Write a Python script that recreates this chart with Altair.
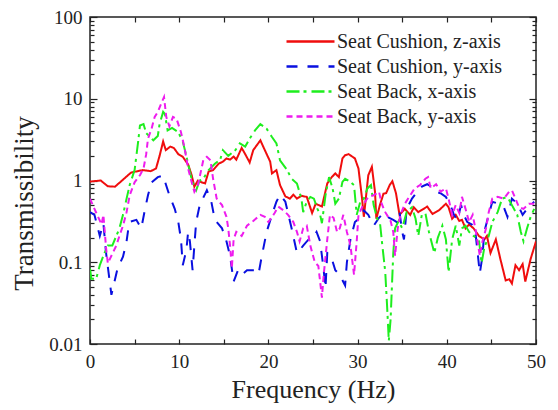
import altair as alt
import pandas as pd

series_names = ["Seat Cushion, z-axis", "Seat Cushion, y-axis", "Seat Back, x-axis", "Seat Back, y-axis"]
series_colors = ["#f00d0d", "#0a10e0", "#1eee1e", "#ee1cee"]
series_dashes = [[1, 0], [11, 10], [13, 4, 3, 5], [6, 4]]

cz_f = [0, 1.2, 2.0, 2.8, 3.5, 4.6, 5.9, 6.8, 7.4, 7.8, 8.2, 8.5, 9.0, 9.4, 9.9, 10.4, 11.0, 11.4, 11.7, 12.1,
        12.5, 12.9, 13.3, 13.8, 14.4, 14.9, 15.3, 15.7, 16.1, 16.4, 17.0, 17.4, 17.9, 18.3, 19.1, 19.6, 20.2, 20.4,
        20.9, 21.3, 21.9, 22.4, 22.8, 23.2, 23.7, 24.3, 24.9, 25.3, 26.0, 26.6, 27.1, 27.5, 27.9, 28.3, 28.6, 29.0,
        29.7, 30.1, 30.5, 30.7, 31.2, 31.6, 31.95, 32.1, 32.5, 32.9, 33.2, 33.6, 33.9, 34.3, 34.7, 35.3, 35.9, 36.3,
        36.8, 37.4, 37.8, 38.4, 39.1, 39.9, 40.2, 40.6, 41.0, 41.4, 41.7, 42.1, 42.5, 43.0, 43.6, 44.2, 44.5, 44.9,
        45.5, 46.0, 46.6, 47.0, 47.3, 47.7, 48.1, 48.5, 48.8, 49.4, 50.0]
cz_v = [0.97, 1.0, 0.85, 0.84, 0.98, 1.25, 1.34, 1.3, 1.4, 2.0, 3.0, 2.35, 2.6, 2.5, 2.1, 1.95, 1.57, 1.16, 0.84, 1.0,
        0.95, 0.92, 1.29, 1.34, 1.6, 1.7, 1.86, 1.8, 1.96, 1.8, 2.5, 2.1, 1.66, 2.35, 3.1, 2.35, 1.7, 1.22,
        1.34, 0.88, 0.64, 0.6, 0.67, 0.6, 0.65, 0.63, 0.4, 0.52, 0.48, 0.92, 1.1, 1.22, 1.1, 1.86, 2.04, 2.1,
        1.86, 1.4, 0.6, 0.36, 1.16, 1.47, 0.73, 0.34, 0.5, 0.69, 0.7, 0.88, 0.98, 0.7, 0.38, 0.45, 0.38, 0.47,
        0.41, 0.45, 0.48, 0.39, 0.43, 0.52, 0.47, 0.34, 0.38, 0.32, 0.33, 0.26, 0.29, 0.26, 0.21, 0.19, 0.21, 0.13,
        0.19, 0.11, 0.06, 0.062, 0.055, 0.092, 0.08, 0.095, 0.058, 0.11, 0.18]

cy_f = [0, 0.5, 1.1, 1.5, 1.8, 2.4, 3.1, 3.7, 4.1, 4.4, 5.2, 5.75, 6.1, 6.5, 6.9, 7.6, 8.2, 8.5, 8.9, 9.5, 9.9,
        10.2, 10.4, 10.8, 11.0, 11.2, 11.5, 11.7, 11.9, 12.3, 13.1, 13.6, 14.0, 14.8, 15.3, 15.7, 16.1, 16.6, 17.0,
        17.6, 18.5, 18.9, 19.2, 19.8, 20.4, 20.9, 21.3, 21.9, 22.2, 22.6, 23.2, 23.5, 23.9, 24.5, 25.0, 25.4, 25.8,
        26.2, 26.4, 26.6, 27.0, 27.5, 28.0, 28.6, 28.8, 29.2, 29.7, 30.3, 30.7, 31.2, 31.8, 32.4, 32.9, 33.5, 34.0,
        34.4, 34.7, 35.0, 35.2, 35.5, 36.1, 36.7, 37.2, 37.8, 38.2, 38.7, 39.3, 39.9, 40.4, 40.8, 41.2, 41.6, 41.9,
        42.3, 42.8, 43.2, 43.4, 43.7, 44.0, 44.2, 44.7, 45.1, 45.8, 46.4, 46.8, 47.3, 47.9, 48.5, 49.0, 49.8]
cy_v = [0.41, 0.38, 0.21, 0.3, 0.13, 0.04, 0.085, 0.117, 0.18, 0.31, 0.33, 0.26, 0.41, 0.66, 0.95, 1.1, 1.15, 0.9,
        0.66, 0.45, 0.31, 0.19, 0.092, 0.14, 0.235, 0.18, 0.08, 0.16, 0.31, 0.5, 0.76, 0.55, 0.33, 0.26, 0.18, 0.12,
        0.058, 0.08, 0.07, 0.08, 0.08, 0.072, 0.11, 0.235, 0.38, 0.55, 0.67, 0.55, 0.4, 0.26, 0.13, 0.14, 0.16, 0.19,
        0.2, 0.235, 0.18, 0.08, 0.048, 0.13, 0.12, 0.08, 0.07, 0.052, 0.1, 0.19, 0.31, 0.35, 0.43, 0.38, 0.28, 0.35,
        0.4, 0.35, 0.33, 0.31, 0.41, 0.235, 0.19, 0.45, 0.6, 0.73, 0.84, 0.9, 0.85, 0.73, 0.7, 0.63, 0.5, 0.38, 0.33,
        0.5, 0.38, 0.31, 0.29, 0.235, 0.15, 0.073, 0.12, 0.235, 0.38, 0.55, 0.52, 0.47, 0.36, 0.6, 0.52, 0.38, 0.45,
        0.55]

bx_f = [0, 0.15, 0.7, 1.1, 1.5, 2.0, 2.5, 3.3, 3.7, 4.1, 4.45, 5.0, 5.4, 5.6, 6.0, 6.3, 7.1, 7.6, 7.8, 8.2, 8.4,
        8.7, 9.2, 9.9, 10.4, 10.8, 11.2, 11.5, 11.9, 12.3, 12.7, 13.3, 14.0, 14.6, 14.9, 15.5, 16.3, 16.8, 17.4,
        17.9, 18.5, 19.1, 19.8, 20.4, 20.9, 21.3, 22.1, 22.6, 23.2, 23.7, 23.9, 24.3, 24.7, 25.1, 25.5, 25.8, 26.0,
        26.4, 26.8, 27.2, 27.5, 27.9, 28.3, 28.6, 29.2, 29.6, 29.9, 30.3, 30.7, 31.1, 31.5, 31.8, 32.2, 32.5, 32.7,
        33.1, 33.3, 33.5, 33.7, 33.9, 34.0, 34.2, 34.6, 35.0, 35.5, 36.1, 36.5, 36.8, 37.2, 37.6, 38.0, 38.6, 39.0,
        39.5, 39.9, 40.2, 40.6, 41.0, 41.4, 41.7, 42.1, 42.5, 43.0, 43.6, 43.9, 44.2, 44.7, 45.1, 45.7, 46.2, 46.8,
        47.3, 47.9, 48.3, 48.6, 49.0, 49.4, 49.8]
bx_v = [0.084, 0.063, 0.063, 0.092, 0.12, 0.16, 0.16, 0.26, 0.38, 0.6, 0.88, 1.34, 3.0, 4.7, 4.9, 3.8, 3.1, 3.5,
        4.9, 6.9, 6.5, 4.1, 4.4, 3.9, 3.0, 2.0, 1.27, 0.95, 0.76, 1.0, 1.05, 1.34, 1.6, 1.8, 2.35, 2.0, 2.35, 2.85,
        2.6, 3.25, 4.1, 4.9, 4.3, 3.4, 2.85, 1.77, 1.34, 1.05, 0.92, 0.6, 0.41, 0.55, 0.63, 0.6, 0.45, 0.38, 0.3,
        0.66, 1.1, 0.8, 0.52, 0.6, 0.96, 1.05, 0.96, 0.88, 0.38, 0.55, 0.6, 0.8, 0.88, 0.5, 0.34, 0.31, 0.19,
        0.076, 0.03, 0.011, 0.02, 0.07, 0.13, 0.26, 0.32, 0.26, 0.41, 0.47, 0.34, 0.21, 0.38, 0.4, 0.235, 0.13, 0.2,
        0.28, 0.19, 0.076, 0.19, 0.28, 0.16, 0.26, 0.28, 0.235, 0.21, 0.19, 0.097, 0.15, 0.21, 0.31, 0.41, 0.6, 0.63,
        0.5, 0.38, 0.235, 0.18, 0.26, 0.36, 0.45]

by_f = [0, 0.5, 0.9, 1.3, 1.5, 1.8, 2.0, 2.4, 2.95, 3.3, 3.7, 4.1, 4.45, 5.0, 5.6, 6.0, 6.3, 6.5, 6.9, 7.25, 7.6,
        7.9, 8.3, 8.55, 8.9, 9.3, 9.7, 10.2, 10.6, 11.0, 11.4, 11.7, 12.1, 12.7, 13.1, 13.5, 13.8, 14.2, 14.8, 15.3,
        15.5, 15.7, 15.9, 16.1, 16.4, 17.0, 17.6, 18.3, 19.1, 19.6, 20.0, 20.7, 21.1, 21.7, 22.2, 22.8, 23.2, 23.5,
        23.9, 24.3, 24.7, 25.2, 25.6, 26.0, 26.2, 26.6, 26.9, 27.3, 27.7, 28.0, 28.4, 28.8, 29.2, 29.6, 29.9, 30.1,
        30.7, 31.2, 31.8, 32.4, 32.7, 33.1, 33.7, 34.0, 34.2, 34.5, 34.8, 35.3, 35.9, 36.4, 37.0, 37.6, 37.9, 38.2,
        38.8, 39.3, 39.9, 40.2, 40.6, 41.0, 41.4, 41.7, 42.1, 42.5, 42.9, 43.2, 43.7, 44.0, 44.4, 44.7, 45.1, 45.7,
        46.4, 47.0, 47.3, 47.7, 48.1, 48.6, 49.2, 49.8]
by_v = [0.6, 0.45, 0.36, 0.29, 0.38, 0.15, 0.097, 0.12, 0.16, 0.21, 0.28, 0.41, 0.66, 0.95, 1.16, 1.4, 2.1, 3.25,
        4.3, 6.0, 6.9, 8.3, 10.5, 6.0, 4.6, 6.0, 5.7, 3.9, 2.5, 1.4, 0.95, 0.73, 0.88, 1.77, 1.95, 1.77, 1.05, 0.6,
        0.5, 0.36, 0.26, 0.16, 0.084, 0.19, 0.235, 0.21, 0.28, 0.32, 0.38, 0.36, 0.31, 0.4, 0.48, 0.43, 0.38, 0.31,
        0.235, 0.18, 0.26, 0.28, 0.16, 0.1, 0.09, 0.037, 0.07, 0.19, 0.38, 0.35, 0.235, 0.26, 0.38, 0.235, 0.16,
        0.07, 0.18, 0.38, 0.52, 0.63, 0.66, 0.73, 0.52, 0.41, 0.32, 0.235, 0.12, 0.26, 0.38, 0.52, 0.66, 0.8, 0.88,
        1.05, 1.1, 0.8, 0.9, 0.73, 0.8, 0.6, 0.38, 0.5, 0.4, 0.63, 0.45, 0.31, 0.38, 0.26, 0.12, 0.18, 0.26, 0.41,
        0.6, 0.63, 0.6, 0.73, 0.76, 0.6, 0.47, 0.45, 0.52, 0.52]

x_label_values = [0, 10, 20, 30, 40, 50]
x_tick_values = [0, 5, 10, 15, 20, 25, 30, 35, 40, 45, 50]
y_major_values = [0.01, 0.1, 1, 10, 100]
y_minor_values = [k * 10.0 ** e for e in range(-2, 2) for k in range(2, 10)]

frames = []
for name, fs, vs in zip(series_names, [cz_f, cy_f, bx_f, by_f], [cz_v, cy_v, bx_v, by_v]):
    frames.append(pd.DataFrame({"f": fs, "v": vs, "series": name}))
df = pd.concat(frames, ignore_index=True)

FONT = "'Liberation Serif', 'Times New Roman', Times, serif"
INK = "#222222"

xscale = alt.Scale(domain=[0, 50], nice=False, zero=False)
yscale = alt.Scale(type="log", domain=[0.01, 100], nice=False)

base = alt.Chart(df)

# wide horizontal stroke symbol (path spans 4x the nominal symbol diameter)
legend_cfg = dict(title=None, orient="none", legendX=207, legendY=11,
                  symbolType="M-2,0L2,0", symbolSize=576, symbolStrokeWidth=2.5,
                  symbolFillColor="transparent",
                  labelFont=FONT, labelFontSize=20, labelColor=INK, labelOffset=13,
                  rowPadding=1, padding=0, labelLimit=300)

lines = base.mark_line(clip=True, strokeWidth=2).encode(
    x=alt.X("f:Q", scale=xscale, axis=alt.Axis(
        orient="bottom", values=x_label_values, ticks=False, tickSize=0, domain=False, grid=False,
        labelFont=FONT, labelFontSize=19, labelColor=INK, labelPadding=8, labelFlush=False,
        title="Frequency (Hz)", titleFont=FONT, titleFontSize=26, titleFontWeight="normal",
        titleColor=INK, titlePadding=5)),
    y=alt.Y("v:Q", scale=yscale, axis=alt.Axis(
        orient="left", values=y_major_values, format="~g", ticks=False, tickSize=0, domain=False, grid=False,
        labelFont=FONT, labelFontSize=19, labelColor=INK, labelPadding=8, labelFlush=False,
        title="Transmissibility", titleFont=FONT, titleFontSize=27, titleFontWeight="normal",
        titleColor=INK, titlePadding=10, titleY=186)),
    color=alt.Color("series:N", scale=alt.Scale(domain=series_names, range=series_colors),
                    legend=alt.Legend(**legend_cfg)),
    strokeDash=alt.StrokeDash("series:N", scale=alt.Scale(domain=series_names, range=series_dashes),
                              legend=alt.Legend(**legend_cfg)),
)


def tick_axis(orient, values, size):
    return alt.Axis(orient=orient, values=values, labels=False, domain=False, grid=False, ticks=True,
                    tickSize=size, offset=-size, tickColor=INK, tickWidth=1.2, title="")


layer_bl = base.mark_point(opacity=0).encode(
    x=alt.X("f:Q", scale=xscale, axis=tick_axis("bottom", x_tick_values, 5)),
    y=alt.Y("v:Q", scale=yscale, axis=tick_axis("left", y_major_values, 7)))
layer_tr = base.mark_point(opacity=0).encode(
    x=alt.X("f:Q", scale=xscale, axis=tick_axis("top", x_tick_values, 5)),
    y=alt.Y("v:Q", scale=yscale, axis=tick_axis("right", y_major_values, 7)))
layer_ml = base.mark_point(opacity=0).encode(
    x=alt.X("f:Q", scale=xscale, axis=None),
    y=alt.Y("v:Q", scale=yscale, axis=tick_axis("left", y_minor_values, 4)))
layer_mr = base.mark_point(opacity=0).encode(
    x=alt.X("f:Q", scale=xscale, axis=None),
    y=alt.Y("v:Q", scale=yscale, axis=tick_axis("right", y_minor_values, 4)))

chart = alt.layer(lines, layer_bl, layer_tr, layer_ml, layer_mr).resolve_axis(
    x="independent", y="independent"
).properties(
    width=446, height=327,
    autosize=alt.AutoSizeParams(type="none"),
    padding={"left": 90, "top": 17, "right": 22, "bottom": 66},
    background="white",
).configure_view(stroke=INK, strokeWidth=1.5)

chart.save("out.html", embed_options={"renderer": "svg", "actions": False})
